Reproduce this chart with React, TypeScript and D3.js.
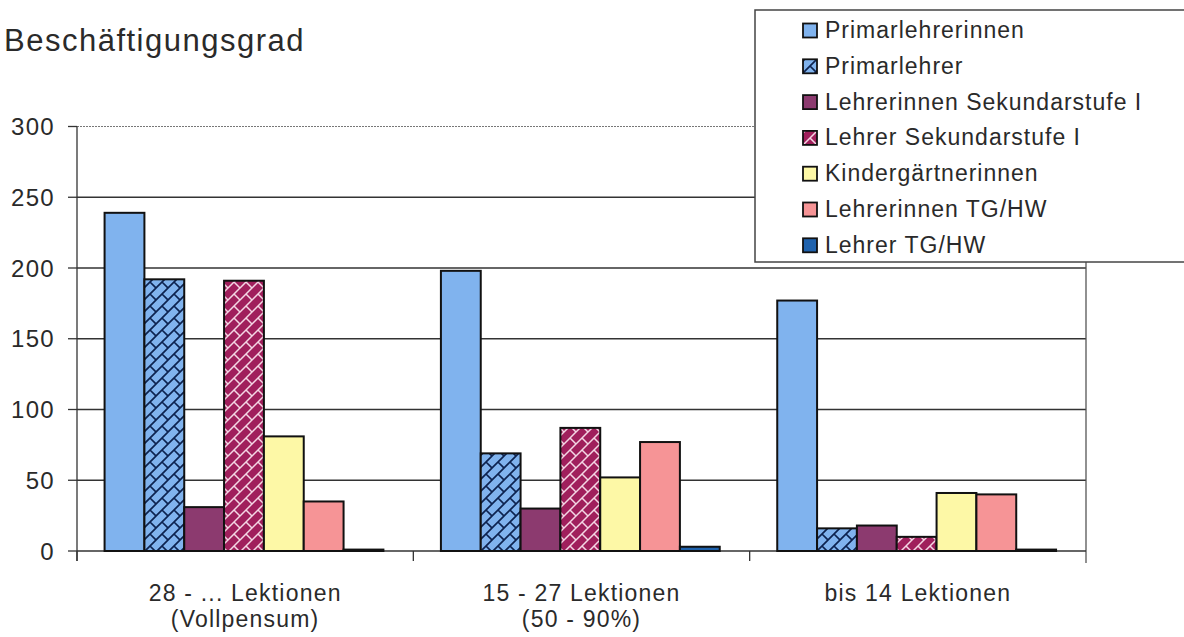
import React from "react";
import * as d3 from "d3";

const categories = ["28 - ... Lektionen|(Vollpensum)", "15 - 27 Lektionen|(50 - 90%)", "bis 14 Lektionen"];
const seriesNames = [
  "Primarlehrerinnen",
  "Primarlehrer",
  "Lehrerinnen Sekundarstufe I",
  "Lehrer Sekundarstufe I",
  "Kindergärtnerinnen",
  "Lehrerinnen TG/HW",
  "Lehrer TG/HW",
];
const primarlehrerinnen = [239, 198, 177];
const primarlehrer = [192, 69, 16];
const lehrerinnenSek = [31, 30, 18];
const lehrerSek = [191, 87, 10];
const kindergaertnerinnen = [81, 52, 41];
const lehrerinnenTG = [35, 77, 40];
const lehrerTG = [1, 3, 1];
const yTicks = [0, 50, 100, 150, 200, 250, 300];

const seriesValues = [primarlehrerinnen, primarlehrer, lehrerinnenSek, lehrerSek, kindergaertnerinnen, lehrerinnenTG, lehrerTG];
const fills = ["#80b3ee", "url(#brickBlue)", "#8c3a6f", "url(#brickRed)", "#fdf8a6", "#f69496", "#1f62ad"];

const font = "'Liberation Sans', Arial, sans-serif";
const ink = "#2a2a2a";
// diagonal brick hatch, 12px tile
const brick = "M0,12 L12,0 M6,6 L12,12 M-1,1 L1,-1 M11,13 L13,11";

export default function App() {
  const width = 1184;
  const height = 637;
  const left = 77, right = 1086, top = 126.5, bottom = 551;

  const x0 = d3.scaleBand().domain(categories).range([left, right]).padding(0);
  const bw = x0.bandwidth();
  const x1 = d3.scaleBand().domain(seriesNames).range([bw * 0.082, bw - bw * 0.089]).padding(0);
  const y = d3.scaleLinear().domain([0, 300]).range([bottom, top]);

  const bars = categories.flatMap((c, ci) =>
    seriesNames.map((s, si) => ({ c, s, si, v: seriesValues[si][ci] }))
  );

  return (
    <svg width={width} height={height} style={{ position: "absolute", left: 0, top: 0, background: "#fff" }}>
      <defs>
        <pattern id="brickBlue" width="12" height="12" patternUnits="userSpaceOnUse">
          <rect width="12" height="12" fill="#80b3ee" />
          <path d={brick} stroke="#0d2350" strokeWidth="1.7" fill="none" />
        </pattern>
        <pattern id="brickRed" width="12" height="12" patternUnits="userSpaceOnUse">
          <rect width="12" height="12" fill="#a01f5c" />
          <path d={brick} stroke="#f4d6e4" strokeWidth="1.5" fill="none" />
        </pattern>
      </defs>

      <text x={4} y={51} fontFamily={font} fontSize={31} letterSpacing={1.5} fill={ink}>
        Beschäftigungsgrad
      </text>

      {yTicks.map((t) => (
        <g key={t}>
          {t > 0 && (
            <line x1={left} x2={right} y1={y(t)} y2={y(t)}
              stroke={t === 300 ? "#777" : "#333"} strokeWidth={t === 300 ? 1 : 1.3}
              strokeDasharray={t === 300 ? "2,1" : undefined} />
          )}
          <line x1={68} x2={left} y1={y(t)} y2={y(t)} stroke="#333" strokeWidth={1.3} />
          <text x={55} y={y(t)} dy="0.36em" textAnchor="end" fontFamily={font} fontSize={24} letterSpacing={1.3} fill={ink}>
            {t}
          </text>
        </g>
      ))}

      <line x1={left} x2={left} y1={top} y2={bottom + 10} stroke="#333" strokeWidth={1.3} />
      <line x1={right} x2={right} y1={top} y2={bottom + 12} stroke="#555" strokeWidth={1.3} />
      <line x1={left} x2={right} y1={bottom} y2={bottom} stroke="#333" strokeWidth={1.3} />
      {[0, 1, 2].map((i) => (
        <line key={i} x1={left + bw * i} x2={left + bw * i} y1={bottom} y2={bottom + 10} stroke="#333" strokeWidth={1.3} />
      ))}

      {bars.map((b) => (
        <rect key={b.c + b.s}
          x={(x0(b.c) ?? 0) + (x1(b.s) ?? 0)}
          y={y(b.v)}
          width={x1.bandwidth()}
          height={bottom - y(b.v)}
          fill={fills[b.si]}
          stroke="#111" strokeWidth={2} />
      ))}

      {categories.map((c) => {
        const lines = c.split("|");
        const cx = (x0(c) ?? 0) + bw / 2;
        return (
          <text key={c} x={cx} y={601} textAnchor="middle" fontFamily={font} fontSize={23} letterSpacing={1.2} fill={ink}>
            {lines.map((l, i) => (
              <tspan key={i} x={cx} dy={i === 0 ? 0 : 26}>{l}</tspan>
            ))}
          </text>
        );
      })}

      <rect x={755} y={10} width={440} height={252} fill="#fff" stroke="#444" strokeWidth={1.5} />
      {seriesNames.map((s, i) => {
        const by = 38 + i * 35.8;
        return (
          <g key={s}>
            <rect x={803} y={by - 14.5} width={14} height={14} fill={fills[i]} stroke="#111" strokeWidth={1.8} />
            <text x={825} y={by} fontFamily={font} fontSize={23} letterSpacing={1} fill={ink}>{s}</text>
          </g>
        );
      })}
    </svg>
  );
}
